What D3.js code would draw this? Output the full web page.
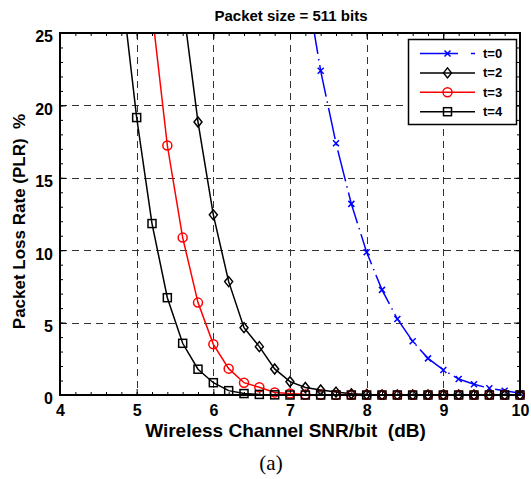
<!DOCTYPE html>
<html lang="en">
<head>
<meta charset="utf-8">
<title>Packet size = 511 bits</title>
<style>
  body { margin: 0; background: #fff; }
  svg text { font-family: "Liberation Sans", Arial, sans-serif; font-weight: bold; white-space: pre; }
</style>
</head>
<body>
<svg width="531" height="479"></svg>
<script src="https://d3js.org/d3.v7.min.js"></script>
<script>
// values (PLR in %, SNR/bit in dB)
var snr_t0 = [7.2, 7.4, 7.6, 7.8, 8.0, 8.2, 8.4, 8.6, 8.8, 9.0, 9.2, 9.4, 9.6, 9.8, 10.0];
var plr_t0 = [28.7, 22.39, 17.39, 13.2, 9.86, 7.26, 5.25, 3.71, 2.53, 1.73, 1.1, 0.74, 0.46, 0.3, 0.12];

var snr_t2 = [5.6, 5.8, 6.0, 6.2, 6.4, 6.6, 6.8, 7.0, 7.2, 7.4, 7.6, 7.8, 8.0, 8.2, 8.4, 8.6, 8.8, 9.0, 9.2, 9.4, 9.6, 9.8, 10.0];
var plr_t2 = [27.1, 18.85, 12.44, 7.83, 4.65, 3.34, 1.8, 0.92, 0.52, 0.35, 0.2, 0.08, 0.03, 0.01, 0, 0, 0, 0, 0, 0, 0, 0, 0];

var snr_t3 = [5.2, 5.4, 5.6, 5.8, 6.0, 6.2, 6.4, 6.6, 6.8, 7.0, 7.2, 7.4, 7.6, 7.8, 8.0, 8.2, 8.4, 8.6, 8.8, 9.0, 9.2, 9.4, 9.6, 9.8, 10.0];
var plr_t3 = [26.5, 17.23, 10.87, 6.38, 3.5, 1.82, 0.85, 0.53, 0.18, 0.1, 0.04, 0.01, 0, 0, 0, 0, 0, 0, 0, 0, 0, 0, 0, 0, 0];

var snr_t4 = [4.8, 5.0, 5.2, 5.4, 5.6, 5.8, 6.0, 6.2, 6.4, 6.6, 6.8, 7.0, 7.2, 7.4, 7.6, 7.8, 8.0, 8.2, 8.4, 8.6, 8.8, 9.0, 9.2, 9.4, 9.6, 9.8, 10.0];
var plr_t4 = [28.3, 19.16, 11.84, 6.72, 3.57, 1.78, 0.85, 0.3, 0.1, 0.04, 0.01, 0, 0, 0, 0, 0, 0, 0, 0, 0, 0, 0, 0, 0, 0, 0, 0];

var legend_names = ["t=0", "t=2", "t=3", "t=4"];
var x_ticks = [4, 5, 6, 7, 8, 9, 10];
var y_ticks = [0, 5, 10, 15, 20, 25];

var svg = d3.select("svg");

var x = d3.scaleLinear().domain([4, 10]).range([60, 520]);
var y = d3.scaleLinear().domain([0, 25]).range([395, 33]);

var series = [
  { name: legend_names[0], xs: snr_t0, ys: plr_t0, color: "#0000ff", marker: "x", dash: "32,5,1.5,5" },
  { name: legend_names[1], xs: snr_t2, ys: plr_t2, color: "#000000", marker: "diamond", dash: null },
  { name: legend_names[2], xs: snr_t3, ys: plr_t3, color: "#ff0000", marker: "circle", dash: null },
  { name: legend_names[3], xs: snr_t4, ys: plr_t4, color: "#000000", marker: "square", dash: null }
];

svg.append("defs").append("clipPath").attr("id", "plot")
  .append("rect")
    .attr("x", x(4) - 5).attr("y", y(25))
    .attr("width", x(10) - x(4) + 10).attr("height", y(0) - y(25) + 5);

// grid
var grid = svg.append("g").attr("stroke", "#333").attr("stroke-width", 1).attr("stroke-dasharray", "7,5");
grid.selectAll(".gx").data(x_ticks.slice(1, -1)).enter().append("line")
  .attr("x1", d => Math.round(x(d)) + 0.5).attr("x2", d => Math.round(x(d)) + 0.5)
  .attr("y1", y(25)).attr("y2", y(0));
grid.selectAll(".gy").data(y_ticks.slice(1, -1)).enter().append("line")
  .attr("y1", d => Math.round(y(d)) + 0.5).attr("y2", d => Math.round(y(d)) + 0.5)
  .attr("x1", x(4)).attr("x2", x(10));

// axes, ticks pointing inward on all four sides
function minor(lo, hi, step) {
  var out = [];
  for (var v = lo; v <= hi + 1e-9; v += step) out.push(+v.toFixed(3));
  return out;
}
var xMinor = minor(4, 10, 0.2), yMinor = minor(0, 25, 1);

function styleAxis(g) {
  g.select(".domain").remove();
  g.selectAll(".tick line").attr("stroke", "#000").attr("stroke-width", 1);
  g.selectAll("text").attr("font-size", 16).attr("fill", "#000")
    .attr("font-family", "Liberation Sans, Arial, sans-serif").attr("font-weight", "bold");
}

svg.append("g").attr("transform", "translate(0," + y(0) + ")")
  .call(d3.axisBottom(x).tickValues(xMinor).tickSize(-3).tickFormat(""))
  .call(styleAxis);
svg.append("g").attr("transform", "translate(0," + y(0) + ")")
  .call(d3.axisBottom(x).tickValues(x_ticks).tickSize(-6).tickPadding(10).tickFormat(d3.format("d")))
  .call(styleAxis);
svg.append("g").attr("transform", "translate(0," + y(25) + ")")
  .call(d3.axisTop(x).tickValues(xMinor).tickSize(-3).tickFormat(""))
  .call(styleAxis);
svg.append("g").attr("transform", "translate(0," + y(25) + ")")
  .call(d3.axisTop(x).tickValues(x_ticks).tickSize(-6).tickFormat(""))
  .call(styleAxis);

svg.append("g").attr("transform", "translate(" + x(4) + ",0)")
  .call(d3.axisLeft(y).tickValues(yMinor).tickSize(-3).tickFormat(""))
  .call(styleAxis);
svg.append("g").attr("transform", "translate(" + x(4) + ",0)")
  .call(d3.axisLeft(y).tickValues(y_ticks).tickSize(-6).tickPadding(7).tickFormat(d3.format("d")))
  .call(styleAxis)
  .selectAll("text").attr("dy", "0.55em");
svg.append("g").attr("transform", "translate(" + x(10) + ",0)")
  .call(d3.axisRight(y).tickValues(yMinor).tickSize(-3).tickFormat(""))
  .call(styleAxis);
svg.append("g").attr("transform", "translate(" + x(10) + ",0)")
  .call(d3.axisRight(y).tickValues(y_ticks).tickSize(-6).tickFormat(""))
  .call(styleAxis);

// markers
function drawMarker(g, type, color) {
  if (type === "x") {
    g.append("path").attr("d", "M-3,-3L3,3M-3,3L3,-3").attr("stroke", color).attr("stroke-width", 1.5).attr("fill", "none");
  } else if (type === "diamond") {
    g.append("path").attr("d", "M0,-5L4,0L0,5L-4,0Z").attr("stroke", color).attr("stroke-width", 1.5).attr("fill", "none");
  } else if (type === "circle") {
    g.append("circle").attr("r", 4.5).attr("stroke", color).attr("stroke-width", 1.5).attr("fill", "none");
  } else if (type === "square") {
    g.append("rect").attr("x", -4).attr("y", -4).attr("width", 8).attr("height", 8)
      .attr("stroke", color).attr("stroke-width", 1.5).attr("fill", "none");
  }
}

var line = d3.line().x(d => x(d[0])).y(d => y(d[1]));
var plot = svg.append("g").attr("clip-path", "url(#plot)");

series.forEach(function(s) {
  var pts = s.xs.map((v, i) => [v, s.ys[i]]);
  plot.append("path").datum(pts)
    .attr("d", line)
    .attr("fill", "none")
    .attr("stroke", s.color)
    .attr("stroke-width", 1.5)
    .attr("stroke-dasharray", s.dash);
  plot.selectAll(null).data(pts.filter(p => p[1] <= 25)).enter().append("g")
    .attr("transform", p => "translate(" + x(p[0]) + "," + y(p[1]) + ")")
    .each(function() { drawMarker(d3.select(this), s.marker, s.color); });
});

// frame
svg.append("rect")
  .attr("x", x(4)).attr("y", y(25))
  .attr("width", x(10) - x(4)).attr("height", y(0) - y(25))
  .attr("fill", "none").attr("stroke", "#000").attr("stroke-width", 2);

// legend
var lg = svg.append("g");
lg.append("rect").attr("x", 408.5).attr("y", 39.5).attr("width", 108).attr("height", 85)
  .attr("fill", "#fff").attr("stroke", "#000").attr("stroke-width", 1.5);
series.forEach(function(s, i) {
  var ly = 53.5 + i * 19.4;
  lg.append("line").attr("x1", 420).attr("x2", 475).attr("y1", ly).attr("y2", ly)
    .attr("stroke", s.color).attr("stroke-width", 1.5).attr("stroke-dasharray", s.dash ? "38,13,4,20" : null);
  drawMarker(lg.append("g").attr("transform", "translate(447.5," + ly + ")"), s.marker, s.color);
  lg.append("text").attr("x", 483).attr("y", ly + 4.5).attr("font-size", 13).text(s.name);
});

// titles
svg.append("text").attr("x", 291).attr("y", 20.5).attr("text-anchor", "middle")
  .attr("font-size", 15).text("Packet size = 511 bits");
svg.append("text").attr("x", 285.5).attr("y", 437).attr("text-anchor", "middle")
  .attr("font-size", 19).text("Wireless Channel SNR/bit  (dB)");
svg.append("text").attr("transform", "translate(25,221.5) rotate(-90)").attr("text-anchor", "middle")
  .attr("font-size", 17).text("Packet Loss Rate (PLR)  %");
svg.append("text").attr("x", 271).attr("y", 470).attr("text-anchor", "middle")
  .attr("font-size", 21)
  .style("font-family", "'Liberation Serif', 'Times New Roman', serif").style("font-weight", "normal")
  .text("(a)");
</script>
</body>
</html>
